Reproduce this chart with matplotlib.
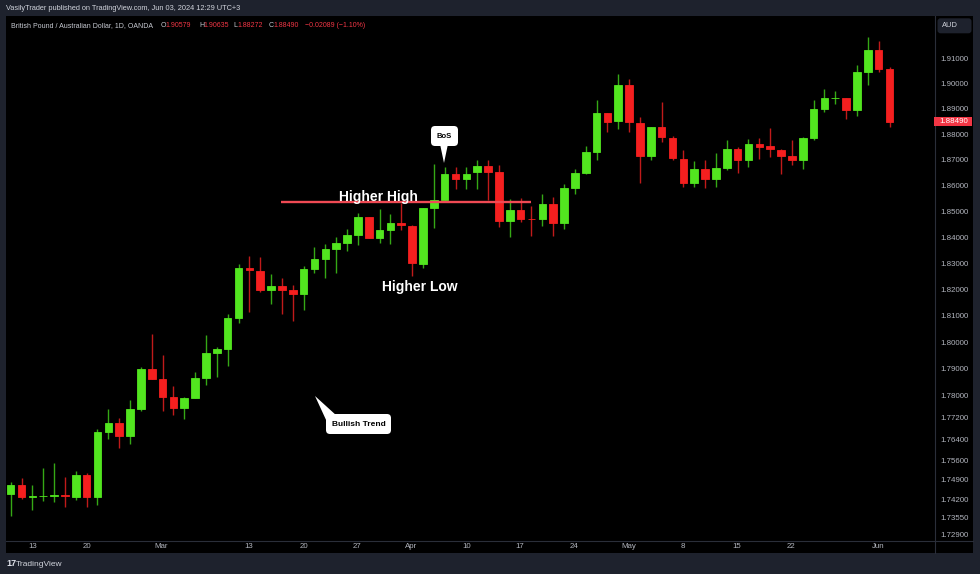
import numpy as np
import matplotlib
matplotlib.use('Agg')
import matplotlib.pyplot as plt
from matplotlib.patches import Rectangle, FancyBboxPatch, Polygon
from matplotlib.lines import Line2D
from matplotlib.transforms import IdentityTransform
from matplotlib.ticker import NullLocator

plt.rcParams['font.family'] = ['Liberation Sans', 'DejaVu Sans']

# GBPAUD daily candles, Feb 9 -> Jun 3 2024
opens = [1.7438, 1.7473, 1.7429, 1.7430, 1.7432, 1.7434, 1.7426, 1.7507, 1.7426, 1.7666,
         1.7698, 1.7652, 1.7751, 1.7899, 1.7862, 1.7795, 1.7755, 1.7792, 1.7866, 1.7959,
         1.7973, 1.8091, 1.8280, 1.8271, 1.8197, 1.8212, 1.8197, 1.8182, 1.8276, 1.8317,
         1.8355, 1.8378, 1.8409, 1.8476, 1.8398, 1.8426, 1.8454, 1.8444, 1.8298, 1.8513,
         1.8542, 1.8643, 1.8624, 1.8650, 1.8676, 1.8651, 1.8461, 1.8503, 1.8471, 1.8469,
         1.8526, 1.8455, 1.8589, 1.8646, 1.8729, 1.8883, 1.8850, 1.8993, 1.8845, 1.8714,
         1.8829, 1.8785, 1.8704, 1.8609, 1.8663, 1.8626, 1.8668, 1.8740, 1.8697, 1.8761,
         1.8753, 1.8737, 1.8716, 1.8697, 1.8785, 1.8897, 1.8941, 1.8942, 1.8893, 1.9045,
         1.9133, 1.90579]
highs = [1.7484, 1.7497, 1.7472, 1.7534, 1.7553, 1.7502, 1.7523, 1.7517, 1.7676, 1.7751,
         1.7717, 1.7784, 1.7908, 1.8031, 1.7951, 1.7836, 1.7796, 1.7889, 1.8027, 1.7982,
         1.8107, 1.8297, 1.8327, 1.8322, 1.8257, 1.8244, 1.8216, 1.8290, 1.8362, 1.8372,
         1.8400, 1.8432, 1.8492, 1.8478, 1.8509, 1.8490, 1.8531, 1.8446, 1.8513, 1.8682,
         1.8672, 1.8670, 1.8670, 1.8700, 1.8697, 1.8678, 1.8545, 1.8549, 1.8518, 1.8568,
         1.8553, 1.8607, 1.8662, 1.8753, 1.8933, 1.8885, 1.9037, 1.9019, 1.8869, 1.8829,
         1.8925, 1.8792, 1.8737, 1.8694, 1.8700, 1.8726, 1.8777, 1.8748, 1.8781, 1.8785,
         1.8824, 1.8740, 1.8777, 1.8789, 1.8936, 1.8977, 1.8970, 1.8944, 1.9075, 1.9185,
         1.9169, 1.90635]
lows = [1.7357, 1.7420, 1.7380, 1.7414, 1.7411, 1.7393, 1.7417, 1.7393, 1.7400, 1.7641,
        1.7607, 1.7620, 1.7743, 1.7862, 1.7743, 1.7729, 1.7715, 1.7792, 1.7842, 1.7869,
        1.7910, 1.8072, 1.8114, 1.8191, 1.8146, 1.8108, 1.8079, 1.8123, 1.8261, 1.8243,
        1.8262, 1.8345, 1.8371, 1.8396, 1.8377, 1.8375, 1.8426, 1.8250, 1.8282, 1.8435,
        1.8540, 1.8584, 1.8587, 1.8587, 1.8542, 1.8438, 1.8400, 1.8458, 1.8403, 1.8442,
        1.8404, 1.8432, 1.8567, 1.8644, 1.8697, 1.8807, 1.8819, 1.8810, 1.8609, 1.8700,
        1.8770, 1.8700, 1.8593, 1.8592, 1.8589, 1.8592, 1.8659, 1.8646, 1.8670, 1.8703,
        1.8710, 1.8643, 1.8681, 1.8665, 1.8777, 1.8887, 1.8917, 1.8859, 1.8870, 1.8993,
        1.9045, 1.88272]
closes = [1.7473, 1.7429, 1.7431, 1.7432, 1.7435, 1.7430, 1.7507, 1.7426, 1.7665, 1.7698,
          1.7651, 1.7752, 1.7899, 1.7863, 1.7795, 1.7755, 1.7791, 1.7865, 1.7959, 1.7973,
          1.8091, 1.8280, 1.8272, 1.8197, 1.8212, 1.8198, 1.8182, 1.8276, 1.8317, 1.8355,
          1.8377, 1.8409, 1.8476, 1.8398, 1.8426, 1.8454, 1.8445, 1.8300, 1.8513, 1.8542,
          1.8643, 1.8624, 1.8643, 1.8676, 1.8653, 1.8461, 1.8503, 1.8469, 1.8469, 1.8526,
          1.8455, 1.8588, 1.8646, 1.8729, 1.8883, 1.8849, 1.8993, 1.8847, 1.8714, 1.8829,
          1.8787, 1.8706, 1.8609, 1.8663, 1.8626, 1.8668, 1.8740, 1.8697, 1.8761, 1.8750,
          1.8740, 1.8716, 1.8697, 1.8785, 1.8897, 1.8941, 1.8943, 1.8893, 1.9045, 1.9133,
          1.9057, 1.88490]

price_ticks = [1.729, 1.7355, 1.742, 1.749, 1.756, 1.764, 1.772, 1.78, 1.79, 1.80,
               1.81, 1.82, 1.83, 1.84, 1.85, 1.86, 1.87, 1.88, 1.89, 1.90, 1.91]
date_pos = [2, 7, 13.9, 21.9, 27, 31.9, 36.9, 42, 46.9, 51.9, 57, 62, 66.9, 71.9, 80]
date_labels = ['13', '20', 'Mar', '13', '20', '27', 'Apr', '10', '17', '24',
               'May', '8', '15', '22', 'Jun']

hh_level = 1.8536          # "higher high" line
hh_span = (24.9, 48.0)
last_price = 1.88490

W, H = 980, 574
FRAME = '#1e222d'
GRID = '#2a2e39'
TXT = '#b2b5be'
UP, DOWN = '#52e51f', '#f51f1f'
UP_WICK, DOWN_WICK = '#35a815', '#c01a1a'
RED = '#f23645'


def fx(x):
    return x / W


def fy(y):
    return 1 - y / H


fig = plt.figure(figsize=(W / 100, H / 100), dpi=100, facecolor=FRAME)
fig.add_artist(Rectangle((fx(6), fy(553)), (973 - 6) / W, (553 - 16) / H,
                         transform=fig.transFigure, fc='black', ec='none', zorder=0))

ax = fig.add_axes([fx(6), fy(541), (934 - 6) / W, (541 - 16) / H])
ax.set_facecolor('black')
ax.set_yscale('log')
for s in ax.spines.values():
    s.set_visible(False)

o = np.array(opens)
h = np.array(highs)
l = np.array(lows)
c = np.array(closes)
x = np.arange(len(o))
up = c >= o

ax.vlines(x[up], l[up], h[up], color=UP_WICK, lw=1, zorder=2)
ax.vlines(x[~up], l[~up], h[~up], color=DOWN_WICK, lw=1, zorder=2)
cols = np.where(up, UP, DOWN)
ax.bar(x, np.abs(c - o), bottom=np.minimum(o, c), width=0.70, color=cols,
       edgecolor=cols, linewidth=0.6, zorder=3)

ax.hlines(hh_level, *hh_span, color='#f04a54', lw=1.7, zorder=4)

ax.set_xlim(-0.433, 85.1)
ax.set_ylim(1.72683, 1.92695)

ax.yaxis.tick_right()
ax.set_yticks(price_ticks)
ax.set_yticklabels([f'{t:.5f}' for t in price_ticks])
ax.yaxis.set_minor_locator(NullLocator())
ax.tick_params(axis='y', length=0, pad=4.3, labelsize=5.7, labelcolor=TXT)
ax.set_xticks(date_pos, date_labels)
ax.tick_params(axis='x', length=0, pad=1.8, labelsize=5.7, labelcolor=TXT)

# axis separators
fig.add_artist(Line2D([fx(934.5), fx(934.5)], [fy(16), fy(553)], color=GRID, lw=0.8))
fig.add_artist(Line2D([fx(6), fx(973)], [fy(541), fy(541)], color=GRID, lw=0.8))

# last price tag
fig.add_artist(Rectangle((934, H - 126.3), 38, 9.6, transform=IdentityTransform(),
                         fc=RED, ec='none', zorder=5))
fig.text(fx(953.5), fy(121.5), f'{last_price:.5f}', ha='center', va='center',
         fontsize=5.7, color='white', zorder=6)

# currency box
fig.add_artist(FancyBboxPatch((937.5, H - 33.3), 34, 15, transform=IdentityTransform(),
                              boxstyle='round,pad=0,rounding_size=3', fc=FRAME, ec='none'))
fig.text(fx(942), fy(25.6), 'AUD', ha='left', va='center', fontsize=5.4, color='#d1d4dc')

# header
fig.text(fx(6), fy(9), 'VasilyTrader published on TradingView.com, Jun 03, 2024 12:29 UTC+3',
         ha='left', va='center', fontsize=5.3, color='#d1d4dc')
hdr_y = fy(25.3)
fig.text(fx(11), hdr_y, 'British Pound / Australian Dollar, 1D, OANDA',
         ha='left', va='center', fontsize=5.0, color='#c8cbd3')
for lbl, xl, val, xv in [('O', 161, '1.90579', 165.5), ('H', 199, '1.90635', 203.5),
                         ('L', 233.5, '1.88272', 237.5), ('C', 269, '1.88490', 273)]:
    fig.text(fx(xl), hdr_y, lbl, ha='left', va='center', fontsize=5.0, color='#c8cbd3')
    fig.text(fx(xv), hdr_y, val, ha='left', va='center', fontsize=5.0, color=RED)
fig.text(fx(305), hdr_y, '\u22120.02089 (\u22121.10%)', ha='left', va='center',
         fontsize=5.0, color=RED)

# annotations
fig.text(fx(378), fy(200.5), 'Higher High', ha='center', va='baseline',
         fontsize=10, fontweight='bold', color='white', zorder=6)
fig.text(fx(419.5), fy(290.5), 'Higher Low', ha='center', va='baseline',
         fontsize=10, fontweight='bold', color='white', zorder=6)

# BoS callout
fig.add_artist(FancyBboxPatch((431, H - 146), 27, 20, transform=IdentityTransform(),
                              boxstyle='round,pad=0,rounding_size=4', fc='white', ec='none'))
fig.add_artist(Polygon([(440, H - 144), (448, H - 144), (444, H - 163)],
                       transform=IdentityTransform(), fc='white', ec='none'))
fig.text(fx(444.5), fy(136), 'BoS', ha='center', va='center', fontsize=5.5,
         fontweight='bold', color='black')

# Bullish Trend callout
fig.add_artist(FancyBboxPatch((326, H - 434), 65, 20, transform=IdentityTransform(),
                              boxstyle='round,pad=0,rounding_size=4', fc='white', ec='none'))
fig.add_artist(Polygon([(315, H - 396), (327, H - 422), (337, H - 416)],
                       transform=IdentityTransform(), fc='white', ec='none'))
fig.text(fx(358.5), fy(424), 'Bullish Trend', ha='center', va='center', fontsize=6,
         fontweight='bold', color='black')

# footer logo
fig.text(fx(6), fy(564), '17', ha='left', va='center', fontsize=6.5,
         fontweight='bold', color='#e0e3eb')
fig.text(fx(16), fy(564), 'TradingView', ha='left', va='center', fontsize=6,
         color='#d1d4dc')

fig.savefig('out.png', dpi=100, facecolor=FRAME)
